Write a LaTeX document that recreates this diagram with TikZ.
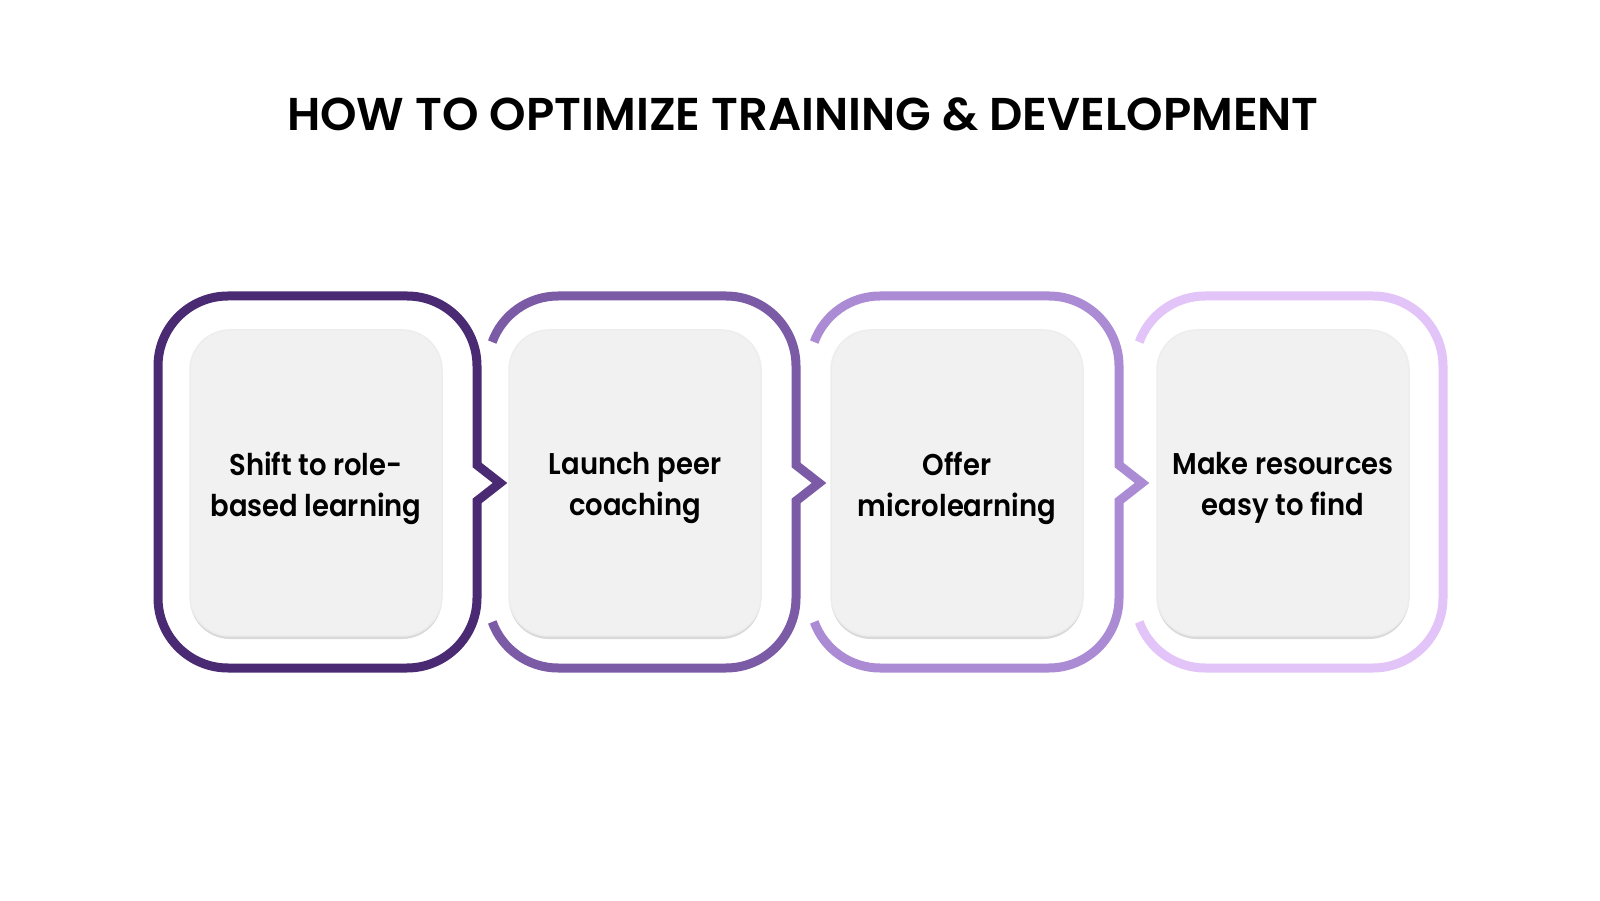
\documentclass[tikz,border=0pt]{standalone}
\usepackage{fontspec}
\setmainfont{Poppins}
\newfontfamily\titlefont{Poppins SemiBold}[FakeStretch=1.01]
\newfontfamily\cardfont{Poppins SemiBold}[FakeStretch=0.915]
\usetikzlibrary{shadows}
\definecolor{colA}{HTML}{4A2A72}
\definecolor{colB}{HTML}{7B5AA6}
\definecolor{colC}{HTML}{AB8BD4}
\definecolor{colD}{HTML}{E2C4F8}
\definecolor{cardgray}{HTML}{F1F1F1}
\begin{document}
\begin{tikzpicture}[x=1pt,y=1pt,
  frame/.style={line width=9pt, line join=miter, line cap=butt},
  card/.style={fill=cardgray, draw=black!7, line width=1.5pt, rounded corners=40pt, minimum width=252pt,
    minimum height=306pt, inner sep=0pt,
    drop shadow={shadow xshift=0pt,shadow yshift=-3pt,fill=black!15,opacity=1}},
  cardtext/.style={align=center, text=black, inner sep=0pt,
    font=\cardfont\fontsize{30}{41}\selectfont},
  heading/.style={font=\titlefont\fontsize{46}{52}\selectfont, text=black, anchor=base, inner sep=0pt}
]
\fill[white] (0,0) rectangle (1600,900);
\useasboundingbox (0,0) rectangle (1600,900);

\node[heading] (title) at (803,769) {HOW TO OPTIMIZE TRAINING \& DEVELOPMENT};

% outlines
\draw[frame, colA] (228,604) -- (407,604) arc[start angle=90,end angle=0,radius=70]
  -- (477,435) -- (500,417) -- (477,399) -- (477,302)
  arc[start angle=0,end angle=-90,radius=70] -- (228,232)
  arc[start angle=270,end angle=180,radius=70] -- (158,534)
  arc[start angle=180,end angle=90,radius=70] -- cycle;

\draw[frame, colB] (492.22,557.94) arc[start angle=160,end angle=90,radius=70]
  -- (726,604) arc[start angle=90,end angle=0,radius=70]
  -- (796,435) -- (819,417) -- (796,399) -- (796,302)
  arc[start angle=0,end angle=-90,radius=70] -- (558,232)
  arc[start angle=270,end angle=200,radius=70];

\draw[frame, colC] (814.22,557.94) arc[start angle=160,end angle=90,radius=70]
  -- (1049,604) arc[start angle=90,end angle=0,radius=70]
  -- (1119,435) -- (1142,417) -- (1119,399) -- (1119,302)
  arc[start angle=0,end angle=-90,radius=70] -- (880,232)
  arc[start angle=270,end angle=200,radius=70];

\draw[frame, colD] (1139.22,557.94) arc[start angle=160,end angle=90,radius=70]
  -- (1373,604) arc[start angle=90,end angle=0,radius=70]
  -- (1443,302)
  arc[start angle=0,end angle=-90,radius=70] -- (1205,232)
  arc[start angle=270,end angle=200,radius=70];

% cards
\node[card] (c1) at (316,417) {};
\node[card] (c2) at (635,417) {};
\node[card] (c3) at (957,417) {};
\node[card] (c4) at (1283,417) {};
\node[cardtext] (t1) at (316,412) {Shift to role-\\based learning};
\node[cardtext] (t2) at (635,412) {Launch peer\\coaching};
\node[cardtext] (t3) at (957,412) {Offer\\microlearning};
\node[cardtext] (t4) at (1283,412) {Make resources\\easy to find};
\end{tikzpicture}
\end{document}
